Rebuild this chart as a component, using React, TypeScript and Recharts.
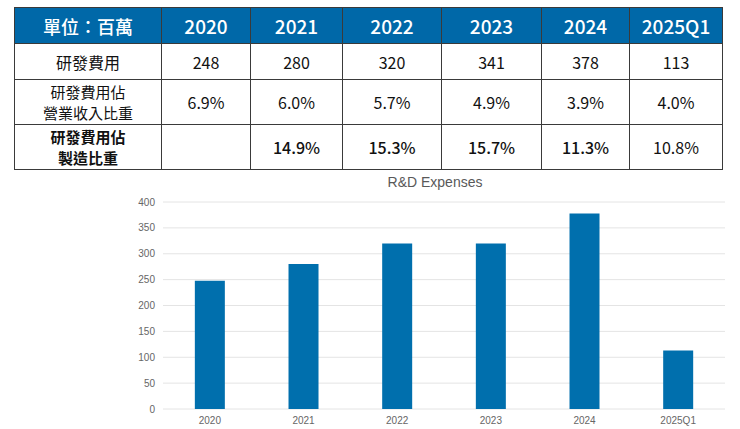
import React from 'react';
import { BarChart, Bar, XAxis, YAxis, CartesianGrid } from 'recharts';

// 表格資料（單位：百萬）
const periods = ['2020', '2021', '2022', '2023', '2024', '2025Q1'];
const rdExpense = ['248', '280', '320', '341', '378', '113'];
const revenueRatio = ['6.9%', '6.0%', '5.7%', '4.9%', '3.9%', '4.0%'];
const mfgRatio = ['', '14.9%', '15.3%', '15.7%', '11.3%', '10.8%'];
const mfgBold = [false, true, true, true, true, false];

// 圖表讀值
const chartValues = [248, 280, 320, 320, 378, 113];
const yTicks = [0, 50, 100, 150, 200, 250, 300, 350, 400];

const colWidths = [147, 89, 92, 99, 100, 88, 93];
const rowHeights = [36, 36, 45, 45];
const BLUE = '#0068a8';
const FONT = '"Noto Sans CJK TC", "Noto Sans", sans-serif';
const AXIS_FONT = '"Liberation Sans", Arial, sans-serif';

const chartData = periods.map((p, i) => ({ name: p, value: chartValues[i] }));

const cell: React.CSSProperties = {
  border: '1px solid #3a3a3a',
  textAlign: 'center',
  verticalAlign: 'middle',
  padding: 0,
  color: '#111',
  fontSize: 16,
  lineHeight: '20px',
};

// 兩行的標題格
const twoLine: React.CSSProperties = { ...cell, fontSize: 15, lineHeight: '21px' };

export default function App() {
  return (
    <div style={{ position: 'absolute', left: 0, top: 0, width: 740, height: 429, background: '#fff', fontFamily: FONT }}>
      <table
        style={{
          position: 'absolute', left: 14, top: 7, borderCollapse: 'collapse',
          tableLayout: 'fixed', width: colWidths.reduce((a, b) => a + b, 0),
        }}
      >
        <colgroup>
          {colWidths.map((w, i) => <col key={i} style={{ width: w }} />)}
        </colgroup>
        <tbody>
          <tr style={{ height: rowHeights[0] }}>
            <td style={{ ...cell, background: BLUE, color: '#fff', fontSize: 18, fontWeight: 500 }}>單位：百萬</td>
            {periods.map((p) => (
              <td key={p} style={{ ...cell, background: BLUE, color: '#fff', fontSize: 19, fontWeight: 500 }}>{p}</td>
            ))}
          </tr>
          <tr style={{ height: rowHeights[1] }}>
            <td style={cell}>研發費用</td>
            {rdExpense.map((v, i) => <td key={i} style={cell}>{v}</td>)}
          </tr>
          <tr style={{ height: rowHeights[2] }}>
            <td style={twoLine}>研發費用佔<br />營業收入比重</td>
            {revenueRatio.map((v, i) => <td key={i} style={cell}>{v}</td>)}
          </tr>
          <tr style={{ height: rowHeights[3] }}>
            <td style={{ ...twoLine, fontWeight: 700 }}>研發費用佔<br />製造比重</td>
            {mfgRatio.map((v, i) => (
              <td key={i} style={{ ...cell, fontWeight: mfgBold[i] ? 500 : 400 }}>{v}</td>
            ))}
          </tr>
        </tbody>
      </table>

      <div
        style={{
          position: 'absolute', left: 0, top: 174, width: 740, textAlign: 'center',
          fontFamily: AXIS_FONT, fontSize: 14, color: '#595959',
          paddingLeft: 130, boxSizing: 'border-box',
        }}
      >
        R&amp;D Expenses
      </div>

      <div style={{ position: 'absolute', left: 0, top: 170 }}>
        <BarChart
          width={740}
          height={259}
          data={chartData}
          margin={{ top: 32, right: 15, bottom: 0, left: 0 }}
          barCategoryGap="34%"
        >
          <CartesianGrid vertical={false} stroke="#e4e4e4" />
          <XAxis
            dataKey="name"
            axisLine={false}
            tickLine={false}
            height={20}
            tick={{ fill: '#666', fontSize: 10, fontFamily: AXIS_FONT }}
          />
          <YAxis
            domain={[0, 400]}
            ticks={yTicks}
            axisLine={false}
            tickLine={false}
            width={163}
            tick={{ fill: '#666', fontSize: 10, fontFamily: AXIS_FONT }}
          />
          <Bar dataKey="value" fill="#006fad" isAnimationActive={false} />
        </BarChart>
      </div>
    </div>
  );
}
